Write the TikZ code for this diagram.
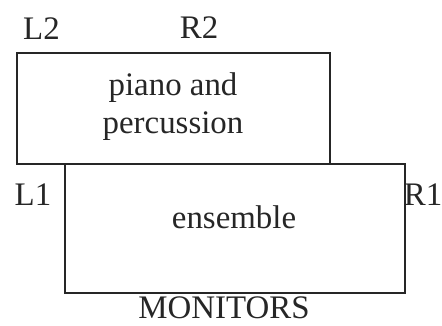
\documentclass[tikz,border=0pt]{standalone}
\usepackage{fontspec}
\setmainfont{Liberation Serif}
\begin{document}
\begin{tikzpicture}[x=1bp,y=-1bp,
  box/.style={draw=black!85,line width=2bp,inner sep=0pt,rectangle},
  lbl/.style={inner sep=0pt,anchor=base,font=\fontsize{33}{38}\selectfont,text=black!85}]
\useasboundingbox (0,0) rectangle (442,325);
\node[box,minimum width=313.3bp,minimum height=111bp] (pp) at (173.3,108.5) {};
\node[box,minimum width=340bp,minimum height=129bp] (ens) at (235,228.5) {};
\node[lbl] (l2) at (41.5,39) {L2};
\node[lbl] (r2) at (199,38) {R2};
\node[lbl] (pptext1) at (173,95) {piano and};
\node[lbl] (pptext2) at (173,133) {percussion};
\node[lbl] (l1) at (33,205) {L1};
\node[lbl] (r1) at (423,205) {R1};
\node[lbl] (enstext) at (234,228) {ensemble};
\node[lbl] (mon) at (224,318.5) {MONITORS};
\end{tikzpicture}
\end{document}
